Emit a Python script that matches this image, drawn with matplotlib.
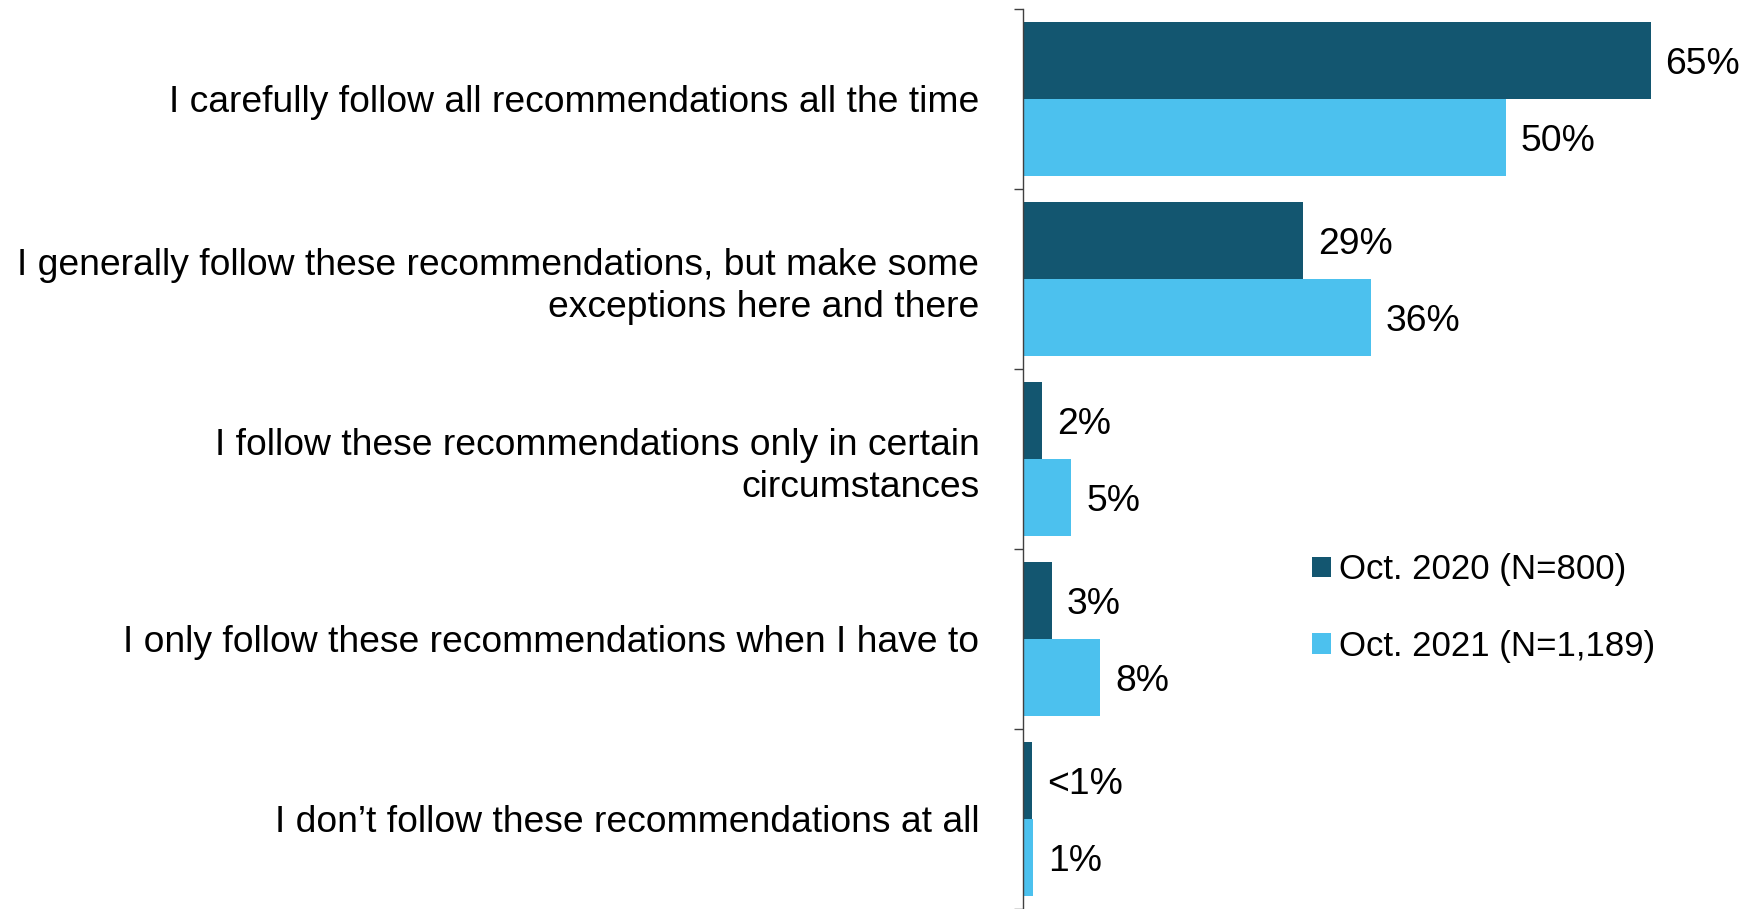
import matplotlib
matplotlib.use("Agg")
import matplotlib.pyplot as plt
from matplotlib.patches import Patch
import numpy as np

plt.rcParams['font.family'] = ['Liberation Sans', 'DejaVu Sans']

categories = [
    "I carefully follow all recommendations all the time",
    "I generally follow these recommendations, but make some\nexceptions here and there",
    "I follow these recommendations only in certain\ncircumstances",
    "I only follow these recommendations when I have to",
    "I don\u2019t follow these recommendations at all",
]
series_names = ["Oct. 2020 (N=800)", "Oct. 2021 (N=1,189)"]
oct2020 = [65, 29, 2, 3, 0.9]
oct2021 = [50, 36, 5, 8, 1]
labels2020 = ["65%", "29%", "2%", "3%", "<1%"]
labels2021 = ["50%", "36%", "5%", "8%", "1%"]

dark = "#135670"
light = "#4CC1EE"

W, H = 1744, 909
fig = plt.figure(figsize=(W / 100, H / 100), dpi=100)
ax_left = 1023 / W
ax = fig.add_axes([ax_left, 0, 1 - ax_left, 1 - 9 / H])

y = np.arange(len(categories))
bh = 0.428
b1 = ax.barh(y - bh / 2, oct2020, height=bh, color=dark, label=series_names[0])
b2 = ax.barh(y + bh / 2, oct2021, height=bh, color=light, label=series_names[1])

ax.set_ylim(len(categories) - 0.5, -0.5)
ax.set_xlim(0, (W - 1023) / 9.655)

fs = 26.8
for bars, labs in ((b1, labels2020), (b2, labels2021)):
    for rect, lab in zip(bars, labs):
        ax.annotate(lab, (rect.get_width(), rect.get_y() + rect.get_height() / 2),
                    xytext=(15, -4), textcoords='offset pixels',
                    ha='left', va='center', fontsize=fs, color='black')

for s in ('top', 'right', 'bottom'):
    ax.spines[s].set_visible(False)
ax.spines['left'].set_color('#404040')
ax.spines['left'].set_linewidth(1.0)
ax.set_xticks([])
ax.set_yticks(y)
ax.set_yticklabels(categories, fontsize=fs, ha='right', multialignment='right',
                   linespacing=1.27)
ax.tick_params(axis='y', which='major', length=0, pad=31.5)
ax.set_yticks(np.arange(-0.5, len(categories), 1.0), minor=True)
ax.tick_params(axis='y', which='minor', length=6.5, width=1.0, color='#404040')

handles = [Patch(facecolor=dark), Patch(facecolor=light)]
fig.legend(handles, series_names, loc='center left',
           bbox_to_anchor=(1312 / W, 1 - 608 / H), frameon=False,
           fontsize=25, handlelength=0.55, handleheight=0.55,
           handletextpad=0.22, labelspacing=1.25, borderpad=0, borderaxespad=0)

fig.savefig("out.png", dpi=100)
